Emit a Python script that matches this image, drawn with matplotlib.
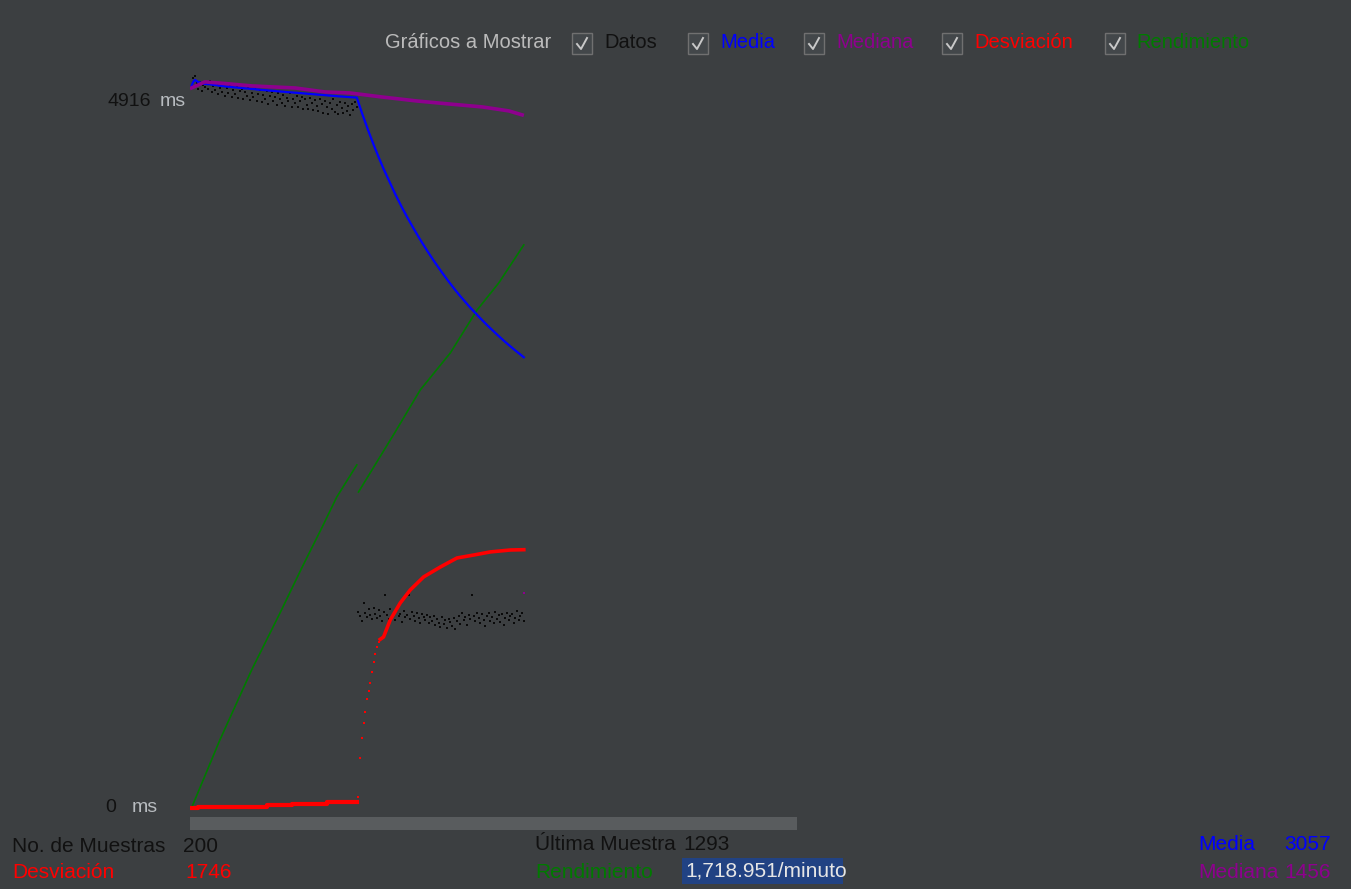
import numpy as np
import matplotlib.pyplot as plt
from matplotlib.patches import Rectangle
from matplotlib.lines import Line2D

W, H = 1351, 889
BG = '#3c3f41'
FONT = 'Liberation Sans'

BLUE = '#0000ff'
PURPLE = '#8e008e'
RED = '#ff0000'
GREEN = '#007a00'

# response time of each sample (ms), first run then second run
datos_1 = [4880, 4935, 4948, 4900, 4862, 4910, 4845, 4890, 4872, 4905,
           4860, 4915, 4838, 4880, 4850, 4895, 4825, 4870, 4842, 4888,
           4812, 4868, 4835, 4890, 4806, 4855, 4829, 4878, 4800, 4846,
           4862, 4795, 4840, 4815, 4872, 4788, 4835, 4806, 4858, 4780,
           4826, 4850, 4772, 4818, 4795, 4845, 4760, 4812, 4838, 4776,
           4805, 4752, 4830, 4790, 4768, 4822, 4745, 4800, 4780, 4835,
           4740, 4795, 4762, 4815, 4735, 4778, 4808, 4728, 4790, 4752,
           4725, 4800, 4768, 4718, 4785, 4745, 4710, 4795, 4760, 4700,
           4776, 4740, 4690, 4765, 4722, 4790, 4705, 4750, 4688, 4770,
           4730, 4695, 4762, 4712, 4745, 4685, 4758, 4720, 4770, 4740]
datos_2 = [1325, 1298, 1262, 1386, 1318, 1290, 1345, 1305, 1278, 1352,
           1312, 1284, 1338, 1298, 1265, 1325, 1440, 1302, 1280, 1342,
           1290, 1318, 1270, 1335, 1296, 1312, 1258, 1330, 1288, 1305,
           1440, 1276, 1322, 1298, 1264, 1318, 1285, 1250, 1310, 1292,
           1270, 1305, 1248, 1288, 1262, 1298, 1236, 1280, 1252, 1225,
           1290, 1242, 1268, 1220, 1275, 1256, 1230, 1283, 1210, 1262,
           1300, 1245, 1318, 1268, 1290, 1236, 1305, 1278, 1440, 1296,
           1262, 1315, 1284, 1250, 1308, 1272, 1232, 1295, 1318, 1265,
           1290, 1252, 1325, 1280, 1302, 1258, 1312, 1240, 1286, 1320,
           1268, 1295, 1310, 1248, 1285, 1330, 1272, 1300, 1318, 1262]

# median, deviation and throughput (sample index, ms)
mediana_idx = [0, 8, 16, 36, 62, 80, 95, 114, 135, 154, 174, 190, 198]
mediana_ms = [4867, 4908, 4901, 4881, 4867, 4840, 4833, 4806, 4779, 4759,
              4739, 4712, 4685]
mediana_final = 1456

desv1_idx = [0, 4, 45, 60, 81, 99]
desv1_ms = [0, 8, 17, 27, 40, 40]
desv2_pts_idx = [100, 101, 102, 103, 104, 105, 106, 107, 108, 109, 110, 111, 112]
desv2_pts_ms = [74, 338, 473, 575, 649, 737, 791, 845, 919, 987, 1040, 1085, 1120]
desv2_idx = [113, 115, 119, 125, 131, 139, 149, 159, 169, 179, 191, 199]
desv2_ms = [1140, 1156, 1271, 1386, 1474, 1562, 1629, 1690, 1710, 1731, 1744, 1746]

rend1_idx = [0, 17, 36, 53, 66, 78, 87, 99]
rend1_ms = [0, 460, 933, 1318, 1622, 1893, 2102, 2319]
rend2_idx = [100, 122, 137, 155, 171, 184, 199]
rend2_ms = [2136, 2542, 2826, 3076, 3366, 3549, 3806]

y_max_label = '4916'
n_muestras = '200'
ultima = '1293'
desviacion = '1746'
rendimiento = '1,718.951/minuto'
media_val = '3057'
mediana_val = '1456'

fig = plt.figure(figsize=(W / 100, H / 100), dpi=100, facecolor=BG)


def px(x, y):
    return x / W, 1 - y / H


# plot area: pixel 190..797 wide, 60..815 tall
ax = fig.add_axes([190 / W, (H - 815) / H, 607 / W, 755 / H])
ax.set_facecolor(BG)
for s in ax.spines.values():
    s.set_visible(False)
ax.set_xticks([])
ax.set_yticks([])
ax.set_xlim(-0.9, 362.6)
ax.set_ylim(-47.3, 5056)

datos = np.array(datos_1 + datos_2, dtype=float)
idx = np.arange(len(datos))
# JMeter's "Media" is the running mean of the samples
media = np.cumsum(datos) / (idx + 1)

ax.plot(idx, datos, 's', color='#0a0a0a', ms=2.0, mew=0, zorder=3)

ax.plot(rend1_idx, rend1_ms, color=GREEN, lw=1.2, zorder=2)
ax.plot(rend2_idx, rend2_ms, color=GREEN, lw=1.2, zorder=2)

ax.plot(idx, media, color=BLUE, lw=1.6, zorder=4)
ax.plot(mediana_idx, mediana_ms, color=PURPLE, lw=2.6, zorder=5)
ax.plot([199], [mediana_final], 's', color=PURPLE, ms=2, mew=0, zorder=5)

ax.plot(desv1_idx, desv1_ms, color=RED, lw=3, drawstyle='steps-post', zorder=4)
ax.plot(desv2_pts_idx, desv2_pts_ms, 's', color=RED, ms=2, mew=0, zorder=4)
ax.plot(desv2_idx, desv2_ms, color=RED, lw=2.6, zorder=4)

# slider bar under the graph
fig.add_artist(Rectangle(px(190, 830), 607 / W, 13 / H, transform=fig.transFigure,
                         facecolor='#595c5e', edgecolor='none'))


def label(x, y, s, color, ha='left', size=15, **kw):
    fig.text(*px(x, y), s, color=color, ha=ha, va='center', fontsize=size,
             family=FONT, **kw)


def checkbox(x, y=33):
    fig.add_artist(Rectangle(px(x, y + 21), 20 / W, 21 / H, transform=fig.transFigure,
                             facecolor='#43474a', edgecolor='#707070', lw=1))
    cx = [x + 5, x + 9, x + 15]
    cy = [y + 11, y + 16, y + 5]
    fig.add_artist(Line2D([c / W for c in cx], [1 - c / H for c in cy],
                          transform=fig.transFigure, color='#c8c8c8', lw=1.4))


# legend row
label(385, 43, 'Gráficos a Mostrar', '#bbbbbb', size=14.5)
checkbox(572)
label(604, 43, 'Datos', '#111111', size=14.5)
checkbox(688)
label(720, 43, 'Media', BLUE, size=14.5)
checkbox(804)
label(836, 43, 'Mediana', PURPLE, size=14.5)
checkbox(942)
label(974, 43, 'Desviación', RED, size=14.5)
checkbox(1105)
label(1136, 43, 'Rendimiento', GREEN, size=14.5)

# y-axis labels
label(151, 102, y_max_label, '#111111', ha='right', size=14)
label(160, 102, 'ms', '#b8bcc0', size=14)
label(116, 808, '0', '#111111', ha='right', size=14)
label(132, 808, 'ms', '#b8bcc0', size=14)

# bottom statistics
label(12, 846, 'No. de Muestras', '#111111')
label(183, 846, n_muestras, '#111111')
label(12, 873, 'Desviación', RED)
label(185, 873, desviacion, RED)

label(535, 845, 'Última Muestra', '#111111')
label(683, 845, ultima, '#111111')
label(535, 872, 'Rendimiento', GREEN)
fig.add_artist(Rectangle(px(682, 884), 161 / W, 26 / H, transform=fig.transFigure,
                         facecolor='#214283', edgecolor='none'))
label(685, 871, rendimiento, '#e6e6e6')

label(1198, 845, 'Media', BLUE)
label(1331, 845, media_val, BLUE, ha='right')
label(1198, 873, 'Mediana', PURPLE)
label(1331, 873, mediana_val, PURPLE, ha='right')

fig.savefig('out.png', dpi=100, facecolor=BG)
